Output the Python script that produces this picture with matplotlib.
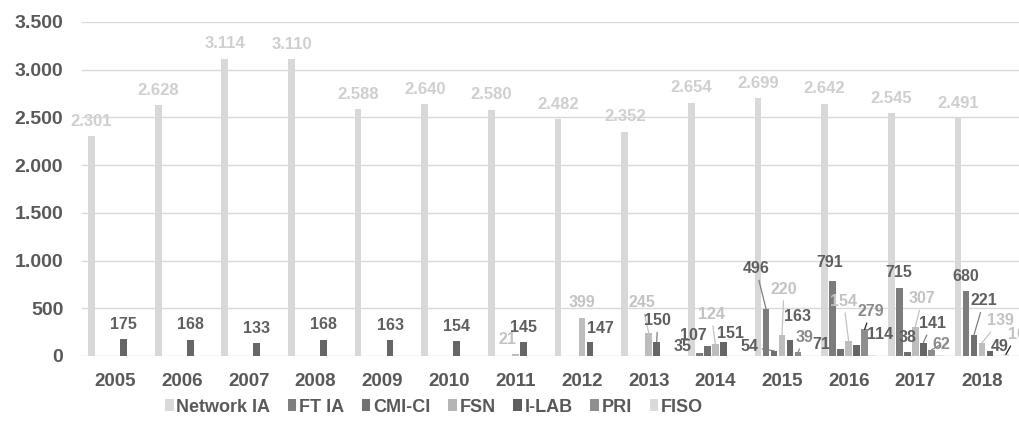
import matplotlib
matplotlib.use("Agg")
import matplotlib.pyplot as plt
from matplotlib.patches import Patch
import numpy as np

plt.rcParams['font.family'] = ['Liberation Sans', 'DejaVu Sans']
plt.rcParams['font.weight'] = 'bold'

# ---------------- data ----------------
years = ['2005', '2006', '2007', '2008', '2009', '2010', '2011',
         '2012', '2013', '2014', '2015', '2016', '2017', '2018']
series_names = ['Network IA', 'FT IA', 'CMI-CI', 'FSN', 'I-LAB', 'PRI', 'FISO']
network_ia = [2301, 2628, 3114, 3110, 2588, 2640, 2580, 2482, 2352, 2654, 2699, 2642, 2545, 2491]
ft_ia      = [0, 0, 0, 0, 0, 0, 0, 0, 0, 35, 496, 791, 715, 680]
cmi_ci     = [0, 0, 0, 0, 0, 0, 0, 0, 0, 107, 54, 71, 38, 221]
fsn        = [0, 0, 0, 0, 0, 0, 21, 399, 245, 124, 220, 154, 307, 139]
i_lab      = [175, 168, 133, 168, 163, 154, 145, 147, 150, 151, 163, 114, 141, 49]
pri        = [0, 0, 0, 0, 0, 0, 0, 0, 0, 0, 39, 279, 62, 0]
fiso       = [0, 0, 0, 0, 0, 0, 0, 0, 0, 0, 0, 12, 10, 16]
values = [network_ia, ft_ia, cmi_ci, fsn, i_lab, pri, fiso]
y_ticks = [0, 500, 1000, 1500, 2000, 2500, 3000, 3500]

# ---------------- styles ----------------
bar_colors = ['#d8d8d8', '#7c7c7c', '#6f6f6f', '#bdbdbd', '#666666', '#8e8e8e', '#e2e2e2']
legend_colors = ['#d9d9d9', '#7f7f7f', '#727272', '#b5b5b5', '#5e5e5e', '#8f8f8f', '#dadada']
label_colors = ['#cfcfcf', '#5f5f5f', '#5f5f5f', '#c3c3c3', '#5f5f5f', '#8a8a8a', '#c3c3c3']
text_grey = '#595959'
grid_grey = '#d9d9d9'

# manual label offsets (pixels: dx right, dy up) and leader flag
PX = 0.72
label_adjust = {
    ('FSN', '2011'): (-8, -1, False),
    ('I-LAB', '2012'): (10, -2, False),
    ('FSN', '2013'): (-7, 15, True),
    ('I-LAB', '2013'): (1, 6, True),
    ('FT IA', '2014'): (-17, -9, False),
    ('CMI-CI', '2014'): (-14, -5, False),
    ('FSN', '2014'): (-4, 15, True),
    ('I-LAB', '2014'): (7, -7, False),
    ('FT IA', '2015'): (-10, 25, True),
    ('CMI-CI', '2015'): (-25, -11, True),
    ('FSN', '2015'): (2, 31, True),
    ('I-LAB', '2015'): (8, 9, False),
    ('PRI', '2015'): (7, 0, True),
    ('FT IA', '2016'): (-3, 3, False),
    ('CMI-CI', '2016'): (-19, -10, False),
    ('FSN', '2016'): (-5, 25, True),
    ('PRI', '2016'): (6, 3, True),
    ('I-LAB', '2016'): (23, -4, False),
    ('FSN', '2017'): (7, 13, True),
    ('I-LAB', '2017'): (9, 4, True),
    ('PRI', '2017'): (10, -9, True),
    ('CMI-CI', '2018'): (10, 19, True),
    ('FSN', '2018'): (18, 7, True),
    ('I-LAB', '2018'): (10, -10, False),
    ('FISO', '2018'): (11, 5, True),
}
hidden_labels = {('FISO', '2016'), ('FISO', '2017')}
black_leaders = {('PRI', '2016'), ('FISO', '2018')}


def fmt(v):
    return f"{v:,}".replace(',', '.')


W, H = 1019, 430
fig = plt.figure(figsize=(W / 100, H / 100), dpi=100)
ax = fig.add_axes([82 / W, 1 - 356 / H, 1 - 82 / W, (356 - 22) / H])

x = np.arange(len(years))
pitch = 0.12
width = 0.10
n = len(series_names)

for j, (name, vals) in enumerate(zip(series_names, values)):
    xs = x + (j - (n - 1) / 2) * pitch
    ax.bar(xs, vals, width=width, color=bar_colors[j], zorder=3, linewidth=0)
    for xi, v, yr in zip(xs, vals, years):
        if v <= 0 or (name, yr) in hidden_labels:
            continue
        dx, dy, leader = label_adjust.get((name, yr), (0, 0, False))
        fs = 12 if name == 'Network IA' else 11.5
        arrow = None
        if leader:
            lc = '#222222' if (name, yr) in black_leaders else label_colors[j]
            if name in ('FT IA', 'CMI-CI', 'I-LAB'):
                lc = '#7f7f7f'
            arrow = dict(arrowstyle='-', color=lc, lw=0.9, shrinkA=1, shrinkB=0)
        ax.annotate(fmt(v), xy=(xi, v), xytext=(dx * PX, (15 + dy) * PX),
                    textcoords='offset points', ha='center', va='center',
                    fontsize=fs, fontweight='bold', color=label_colors[j],
                    arrowprops=arrow, zorder=5, annotation_clip=False)

ax.set_xlim(-0.503, 13.556)
ax.set_ylim(0, 3500)
ax.set_yticks(y_ticks)
ax.set_yticklabels([fmt(t) for t in y_ticks])
ax.set_xticks(x)
ax.set_xticklabels(years)
ax.tick_params(axis='y', length=0, pad=13.5, labelsize=14, labelcolor=text_grey)
ax.tick_params(axis='x', length=0, pad=12.5, labelsize=13.5, labelcolor=text_grey)
for lbl in ax.get_xticklabels() + ax.get_yticklabels():
    lbl.set_fontweight('bold')
ax.grid(axis='y', color=grid_grey, linewidth=1.0, zorder=0)
ax.set_axisbelow(True)
for s in ax.spines.values():
    s.set_visible(False)

handles = [Patch(facecolor=c, edgecolor='none') for c in legend_colors]
fig.legend(handles, series_names, loc='center', bbox_to_anchor=(434 / W, 1 - 407 / H),
           ncol=7, frameon=False, labelcolor=text_grey,
           handlelength=0.45, handleheight=0.6, handletextpad=0.15,
           columnspacing=1.0, prop={'weight': 'bold', 'size': 13})

fig.savefig('out.png', dpi=100)
